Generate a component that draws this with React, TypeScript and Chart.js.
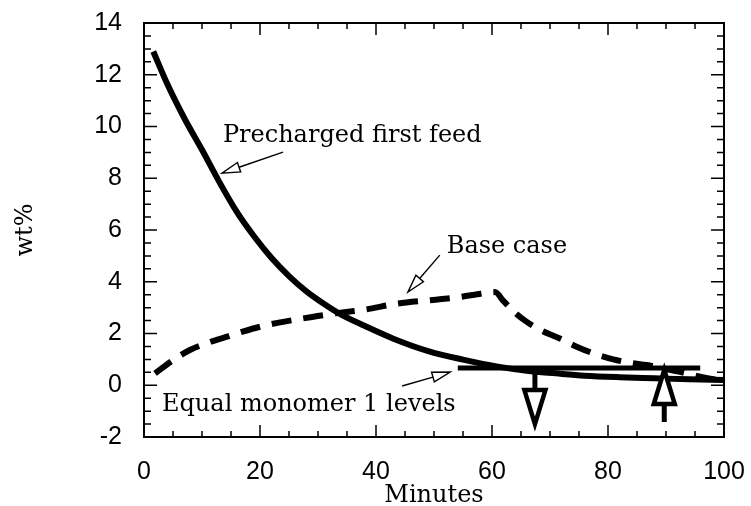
import React, { useEffect, useRef } from "react";
import { Chart, registerables } from "chart.js";

Chart.register(...registerables);

// ---- axes / ticks ----
const xTicks = [0, 20, 40, 60, 80, 100];
const yTicks = [-2, 0, 2, 4, 6, 8, 10, 12, 14];
const xMinorStep = 5;
const yMinorStep = 0.5;

// ---- series: Precharged first feed (solid) ----
const prechargedX = [1.6, 4, 7, 10, 13, 16, 19, 22, 25, 28, 31, 34, 38, 43, 49, 55, 61, 66, 71, 76, 82, 88, 94, 100];
const prechargedY = [12.9, 11.65, 10.3, 9.1, 7.85, 6.7, 5.75, 4.92, 4.22, 3.63, 3.15, 2.73, 2.3, 1.8, 1.32, 0.99, 0.72, 0.56, 0.46, 0.37, 0.31, 0.27, 0.23, 0.2];

// ---- series: Base case (dashed) ----
const baseX = [1.9, 5, 8, 11.5, 14.5, 17, 20, 23, 26, 29, 33, 38, 43.5, 49, 53.5, 57, 60.5, 62, 64, 66, 68.3, 71.7, 74.6, 77.5, 80.9, 83.8, 86.7, 89.5, 92.4, 96.5, 100];
const baseY = [0.46, 0.97, 1.37, 1.68, 1.89, 2.07, 2.26, 2.41, 2.53, 2.64, 2.78, 2.92, 3.15, 3.28, 3.38, 3.5, 3.6, 3.25, 2.8, 2.45, 2.14, 1.81, 1.49, 1.23, 1.0, 0.87, 0.78, 0.65, 0.52, 0.3, 0.18];

// ---- Equal monomer 1 levels (horizontal line) ----
const equalX = [54.1, 95.9];
const equalY = [0.67, 0.67];

// ---- big vertical arrows ----
const bigArrowX = [67.4, 89.7];
const bigArrowFrom = [0.67, -1.42];
const bigArrowTo = [-1.5, 0.59];

// ---- annotations ----
const annTexts = ["Precharged first feed", "Base case", "Equal monomer 1 levels"];
const annTextX = [13.6, 52.2, 3.1];
const annTextY = [9.4, 5.11, -0.995];
const annFromX = [23.97, 51.0, 44.5];
const annFromY = [9.01, 5.03, -0.03];
const annToX = [13.45, 45.5, 52.8];
const annToY = [8.2, 3.6, 0.51];

const SERIF = '"DejaVu Serif", serif';
const SANS = '"Liberation Sans", Arial, sans-serif';

const decorPlugin = {
  id: "decor",
  afterDraw(chart: any) {
    const { ctx, chartArea: ca, scales } = chart;
    const xs = scales.x;
    const ys = scales.y;
    ctx.save();
    ctx.strokeStyle = "#000";
    ctx.fillStyle = "#000";

    // inward ticks
    ctx.lineWidth = 1.5;
    ctx.beginPath();
    const x0 = xTicks[0], x1 = xTicks[xTicks.length - 1];
    for (let v = x0; v <= x1 + 1e-9; v += xMinorStep) {
      const px = xs.getPixelForValue(v);
      const major = xTicks.some((t) => Math.abs(t - v) < 1e-9);
      const len = major ? 12 : 6;
      ctx.moveTo(px, ca.bottom);
      ctx.lineTo(px, ca.bottom - len);
      ctx.moveTo(px, ca.top);
      ctx.lineTo(px, ca.top + len);
    }
    const y0 = yTicks[0], y1 = yTicks[yTicks.length - 1];
    for (let v = y0; v <= y1 + 1e-9; v += yMinorStep) {
      const py = ys.getPixelForValue(v);
      const major = yTicks.some((t) => Math.abs(t - v) < 1e-9);
      const len = major ? 13 : 7;
      ctx.moveTo(ca.left, py);
      ctx.lineTo(ca.left + len, py);
      ctx.moveTo(ca.right, py);
      ctx.lineTo(ca.right - len, py);
    }
    ctx.stroke();

    // frame
    ctx.lineWidth = 2;
    ctx.strokeRect(ca.left, ca.top, ca.right - ca.left, ca.bottom - ca.top);

    // big arrows
    for (let i = 0; i < bigArrowX.length; i++) {
      const px = xs.getPixelForValue(bigArrowX[i]);
      const pFrom = ys.getPixelForValue(bigArrowFrom[i]);
      const pTo = ys.getPixelForValue(bigArrowTo[i]);
      const dir = pTo > pFrom ? 1 : -1;
      const headLen = 34;
      const halfW = 10.5;
      const baseY = pTo - dir * headLen;
      ctx.lineWidth = 5;
      ctx.beginPath();
      ctx.moveTo(px, pFrom);
      ctx.lineTo(px, baseY);
      ctx.stroke();
      ctx.lineWidth = 4.5;
      ctx.lineJoin = "miter";
      ctx.beginPath();
      ctx.moveTo(px - halfW, baseY);
      ctx.lineTo(px + halfW, baseY);
      ctx.lineTo(px, pTo);
      ctx.closePath();
      ctx.fillStyle = "#fff";
      ctx.fill();
      ctx.stroke();
      ctx.fillStyle = "#000";
    }

    // annotations
    ctx.font = "24px " + SERIF;
    ctx.textAlign = "left";
    ctx.textBaseline = "alphabetic";
    for (let i = 0; i < annTexts.length; i++) {
      ctx.fillText(annTexts[i], xs.getPixelForValue(annTextX[i]), ys.getPixelForValue(annTextY[i]));
      const fx = xs.getPixelForValue(annFromX[i]);
      const fy = ys.getPixelForValue(annFromY[i]);
      const tx = xs.getPixelForValue(annToX[i]);
      const ty = ys.getPixelForValue(annToY[i]);
      const ang = Math.atan2(ty - fy, tx - fx);
      const hl = 18, hw = 5;
      const bx = tx - hl * Math.cos(ang);
      const by = ty - hl * Math.sin(ang);
      const nx = -Math.sin(ang), ny = Math.cos(ang);
      ctx.lineWidth = 1.4;
      ctx.beginPath();
      ctx.moveTo(fx, fy);
      ctx.lineTo(bx, by);
      ctx.stroke();
      ctx.beginPath();
      ctx.moveTo(bx + nx * hw, by + ny * hw);
      ctx.lineTo(tx, ty);
      ctx.lineTo(bx - nx * hw, by - ny * hw);
      ctx.closePath();
      ctx.fillStyle = "#fff";
      ctx.fill();
      ctx.stroke();
      ctx.fillStyle = "#000";
    }

    // axis titles
    ctx.textAlign = "center";
    ctx.fillText("Minutes", (ca.left + ca.right) / 2, ca.bottom + 65);
    ctx.save();
    ctx.translate(32, (ca.top + ca.bottom) / 2);
    ctx.rotate(-Math.PI / 2);
    ctx.fillText("wt%", 0, 0);
    ctx.restore();

    ctx.restore();
  },
};

export default function App() {
  const ref = useRef<HTMLCanvasElement>(null);
  useEffect(() => {
    const canvas = ref.current!;
    const chart = new Chart(canvas, {
      type: "line",
      data: {
        datasets: [
          {
            label: "Precharged first feed",
            data: prechargedX.map((x, i) => ({ x, y: prechargedY[i] })),
            borderColor: "#000",
            borderWidth: 6,
            pointRadius: 0,
            cubicInterpolationMode: "monotone",
            fill: false,
          },
          {
            label: "Base case",
            data: baseX.map((x, i) => ({ x, y: baseY[i] })),
            borderColor: "#000",
            borderWidth: 6,
            borderDash: [20, 12],
            pointRadius: 0,
            cubicInterpolationMode: "monotone",
            fill: false,
          },
          {
            label: "Equal monomer 1 levels",
            data: equalX.map((x, i) => ({ x, y: equalY[i] })),
            borderColor: "#000",
            borderWidth: 5,
            pointRadius: 0,
            fill: false,
          },
        ],
      },
      options: {
        animation: false,
        responsive: false,
        devicePixelRatio: 1,
        layout: { padding: { top: 23, right: 27, left: 0, bottom: 0 } },
        plugins: { legend: { display: false }, tooltip: { enabled: false } },
        scales: {
          x: {
            type: "linear",
            min: xTicks[0],
            max: xTicks[xTicks.length - 1],
            grid: { display: false, drawTicks: false },
            border: { display: false },
            afterFit: (s: any) => { s.height = 69; s.paddingLeft = 0; s.paddingRight = 0; },
            afterBuildTicks: (s: any) => { s.ticks = xTicks.map((v) => ({ value: v })); },
            ticks: { padding: 20, color: "#000", font: { family: SANS, size: 25 }, maxRotation: 0 },
          },
          y: {
            type: "linear",
            min: yTicks[0],
            max: yTicks[yTicks.length - 1],
            grid: { display: false, drawTicks: false },
            border: { display: false },
            afterFit: (s: any) => { s.width = 144; s.paddingTop = 0; s.paddingBottom = 0; },
            afterBuildTicks: (s: any) => { s.ticks = yTicks.map((v) => ({ value: v })); },
            ticks: { padding: 22, color: "#000", font: { family: SANS, size: 25 } },
          },
        },
      },
      plugins: [decorPlugin],
    } as any);
    return () => chart.destroy();
  }, []);
  return (
    <div style={{ position: "fixed", left: 0, top: 0, width: 751, height: 506, background: "#fff" }}>
      <canvas ref={ref} width={751} height={506} style={{ display: "block", width: 751, height: 506 }} />
    </div>
  );
}
